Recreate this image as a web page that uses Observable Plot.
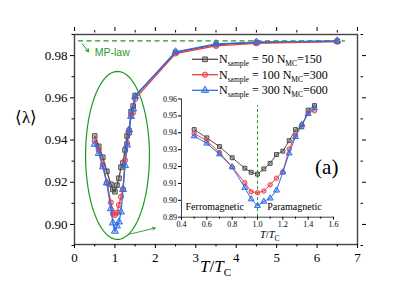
<!DOCTYPE html>
<html><head><meta charset="utf-8">
<script src="https://cdn.jsdelivr.net/npm/d3@7"></script>
<script src="https://cdn.jsdelivr.net/npm/@observablehq/plot@0.6"></script>
<style>
body{margin:0;background:#fff;}
#wrap{position:relative;width:415px;height:294px;overflow:hidden;background:#fff;}
#wrap svg{position:absolute;overflow:visible;}
</style></head><body><div id="wrap"></div>
<script>
// ---- data ----
const T = [0.5,0.6,0.7,0.8,0.9,0.95,1.0,1.05,1.1,1.15,1.2,1.25,1.3,1.35,1.4,1.45,1.5,2.5,3.5,4.5,6.5];
const lam50  = [0.9419,0.9370,0.9318,0.9252,0.9190,0.9166,0.9155,0.9186,0.9219,0.9271,0.9291,0.9353,0.9419,0.9435,0.9534,0.9561,0.9610,0.9815,0.9852,0.9862,0.9868];
const lam100 = [0.9396,0.9353,0.9283,0.9197,0.9104,0.9051,0.9045,0.9055,0.9092,0.9131,0.9168,0.9304,0.9386,0.9448,0.9518,0.9530,0.9595,0.9810,0.9846,0.9858,0.9866];
const lam300 = [0.9380,0.9337,0.9273,0.9197,0.9075,0.9007,0.8968,0.8993,0.9012,0.9059,0.9166,0.9279,0.9376,0.9448,0.9512,0.9547,0.9606,0.9818,0.9856,0.9864,0.9870];
const seriesKeys = ["s50","s100","s300"];
const legendSample = ["50","100","300"];
const legendMC = ["150","300","600"];
const mpLaw = 0.987;
const insetMaxT = 1.45;
const tcLine = 1.0;
const xMajor = [0,1,2,3,4,5,6,7];
const xMinor = [0.5,1.5,2.5,3.5,4.5,5.5,6.5];
const yMajor = [0.90,0.92,0.94,0.96,0.98];
const yMinor = [0.89,0.91,0.93,0.95,0.97,0.99];
const inXMajor = [0.4,0.6,0.8,1.0,1.2,1.4,1.6];
const inXMinor = [0.5,0.7,0.9,1.1,1.3,1.5];
const inYMajor = [0.89,0.90,0.91,0.92,0.93,0.94,0.95,0.96];

// ---- styles ----
const colors = {s50:"#4d4d4d", s100:"#ee4044", s300:"#2f6fe4"};
const symbols = {s50:"square", s100:"circle", s300:"triangle"};
const green = "#1f9a1f";
const serif = "'Liberation Serif','Times New Roman',serif";
const sans = "'Liberation Sans',Arial,sans-serif";

const lamBy = {s50: lam50, s100: lam100, s300: lam300};
const rows = seriesKeys.flatMap(k => T.map((t,i) => ({T:t, lam: lamBy[k][i], s:k})));
const insetRows = rows.filter(d => d.T <= insetMaxT);

function seriesMarks(data, sw, r) {
  return seriesKeys.flatMap(k => {
    const d = data.filter(v => v.s === k);
    return [
      Plot.line(d, {x:"T", y:"lam", stroke: colors[k], strokeWidth: sw}),
      Plot.dot(d, {x:"T", y:"lam", symbol: symbols[k], r, stroke: colors[k], strokeWidth: 1, fill: colors[k], fillOpacity: 0.35})
    ];
  });
}

const ell = {cx:1.064, cy:0.9327, rx:0.79, ry:0.0398};
const ellPts = d3.range(0, 361, 3).map(a => ({x: ell.cx + ell.rx*Math.cos(a*Math.PI/180), y: ell.cy + ell.ry*Math.sin(a*Math.PI/180)}));
const blank = () => "";

const main = Plot.plot({
  width: 415, height: 294,
  marginLeft: 74, marginRight: 58, marginTop: 34, marginBottom: 50,
  style: {fontFamily: serif, fontSize: "13px", color: "#000", background: "transparent"},
  x: {domain: [0,7]},
  y: {domain: [0.8905, 0.99]},
  marks: [
    Plot.ruleY([mpLaw], {x1: 0.1, x2: 6.7, stroke: green, strokeDasharray: "5,3.5", strokeWidth: 1.2}),
    Plot.line(ellPts, {x:"x", y:"y", stroke: green, strokeWidth: 1.2}),
    Plot.arrow([{x1:0.19, y1:0.9856, x2:0.35, y2:0.9818}], {x1:"x1", y1:"y1", x2:"x2", y2:"y2", stroke: green, strokeWidth: 1, headLength: 5}),
    Plot.arrow([{x1:1.34, y1:0.8953, x2:2.0, y2:0.8983}], {x1:"x1", y1:"y1", x2:"x2", y2:"y2", stroke: green, strokeWidth: 0.9, headLength: 5}),
    Plot.text(["MP-law"], {x: 0.5, y: 0.9797, text: d => d, textAnchor: "start", lineAnchor: "bottom", fill: green, fontFamily: sans, fontSize: 10.5}),
    Plot.text(["(a)"], {x: 6.24, y: 0.9241, text: d => d, textAnchor: "middle", lineAnchor: "bottom", fontSize: 21}),
    Plot.frame({stroke: "#444", strokeWidth: 1.4}),
    Plot.axisX({ticks: xMajor, tickSize: 4, tickPadding: 4, tickFormat: d3.format("d"), label: null, fontSize: 13}),
    Plot.axisX({ticks: xMinor, tickSize: 2.5, tickFormat: blank, label: null}),
    Plot.axisX({anchor: "top", ticks: xMajor, tickSize: 4, insetTop: -4, tickFormat: blank, label: null}),
    Plot.axisX({anchor: "top", ticks: xMinor, tickSize: 2.5, insetTop: -2.5, tickFormat: blank, label: null}),
    Plot.axisY({ticks: yMajor, tickSize: 4, tickPadding: 3, tickFormat: d3.format(".2f"), label: null, fontSize: 13}),
    Plot.axisY({ticks: yMinor, tickSize: 2.5, tickFormat: blank, label: null}),
    Plot.axisY({anchor: "right", ticks: yMajor, tickSize: 4, insetRight: -4, tickFormat: blank, label: null}),
    Plot.axisY({anchor: "right", ticks: yMinor, tickSize: 2.5, insetRight: -2.5, tickFormat: blank, label: null}),
    ...seriesMarks(rows, 1.3, 2.6)
  ]
});

const inset = Plot.plot({
  width: 200, height: 160,
  marginLeft: 31, marginRight: 17, marginTop: 13.5, marginBottom: 28.3,
  style: {fontFamily: serif, fontSize: "8px", color: "#000", background: "transparent"},
  x: {domain: [0.4, 1.6]},
  y: {domain: [0.89, 0.96]},
  marks: [
    Plot.ruleX([tcLine], {y1: 0.89, y2: 0.9562, stroke: green, strokeDasharray: "3,2.5", strokeWidth: 1}),
    Plot.ruleX([0.4], {stroke: "#444", strokeWidth: 1}),
    Plot.ruleY([0.89], {stroke: "#444", strokeWidth: 1}),
    Plot.axisX({ticks: inXMajor, tickSize: 3, tickPadding: 1.5, tickFormat: d3.format(".1f"), label: null, fontSize: 8}),
    Plot.axisX({ticks: inXMinor, tickSize: 2, tickFormat: blank, label: null}),
    Plot.axisY({ticks: inYMajor, tickSize: 3, tickPadding: 1.5, tickFormat: d3.format(".2f"), label: null, fontSize: 8}),
    Plot.text(["Ferromagnetic"], {x: 0.432, y: 0.894, text: d => d, textAnchor: "start", lineAnchor: "bottom", fontSize: 10}),
    Plot.text(["Paramagnetic"], {x: 1.077, y: 0.894, text: d => d, textAnchor: "start", lineAnchor: "bottom", fontSize: 10}),
    ...seriesMarks(insetRows, 1, 2.2)
  ]
});

const wrap = document.getElementById("wrap");
main.style.left = "0px"; main.style.top = "0px";
inset.style.left = "150px"; inset.style.top = "85px";
wrap.appendChild(main);
wrap.appendChild(inset);

// ---- texts with subscripts and legend ----
const ms = d3.select(main);
const xl = ms.append("text").attr("x", 200).attr("y", 272).attr("text-anchor", "start").attr("fill", "#000").attr("font-family", serif).attr("font-size", 17);
xl.append("tspan").attr("font-style","italic").text("T");
xl.append("tspan").text("/");
xl.append("tspan").attr("font-style","italic").text("T");
xl.append("tspan").attr("font-size", 11).attr("dy", 4).text("C");

const yl = ms.append("text").attr("x", 15).attr("y", 123).attr("text-anchor", "start").attr("fill", "#000").attr("font-family", serif).attr("font-size", 17);
yl.append("tspan").attr("font-family", "'DejaVu Sans',sans-serif").attr("font-weight", 200).text("⟨");
yl.append("tspan").text("λ");
yl.append("tspan").attr("font-family", "'DejaVu Sans',sans-serif").attr("font-weight", 200).text("⟩");

const is = d3.select(inset);
const il = is.append("text").attr("x", 110).attr("y", 152.5).attr("text-anchor", "start").attr("fill", "#000").attr("font-family", serif).attr("font-size", 10.5);
il.append("tspan").attr("font-style","italic").text("T");
il.append("tspan").text("/");
il.append("tspan").attr("font-style","italic").text("T");
il.append("tspan").attr("font-size", 7.5).attr("dy", 3).text("C");

const legY = [59.3, 74.7, 90.3];
seriesKeys.forEach((k, i) => {
  const g = ms.append("g").attr("transform", `translate(0,${legY[i]})`);
  g.append("line").attr("x1", 192).attr("x2", 218).attr("stroke", colors[k]).attr("stroke-width", 1.3);
  const sym = {square: d3.symbolSquare, circle: d3.symbolCircle, triangle: d3.symbolTriangle}[symbols[k]];
  g.append("path").attr("transform", "translate(205,0)").attr("d", d3.symbol(sym, 22)())
    .attr("stroke", colors[k]).attr("fill", colors[k]).attr("fill-opacity", 0.35);
  const t = g.append("text").attr("x", 219).attr("y", 4).attr("text-anchor", "start").attr("fill", "#000").attr("font-family", serif).attr("font-size", 12);
  t.append("tspan").text("N");
  t.append("tspan").attr("font-size", 7.5).attr("dy", 3).text("sample");
  t.append("tspan").attr("dy", -3).text(` = ${legendSample[i]} N`);
  t.append("tspan").attr("font-size", 7.5).attr("dy", 3).text("MC");
  t.append("tspan").attr("dy", -3).text(`=${legendMC[i]}`);
});
</script>
</body></html>
